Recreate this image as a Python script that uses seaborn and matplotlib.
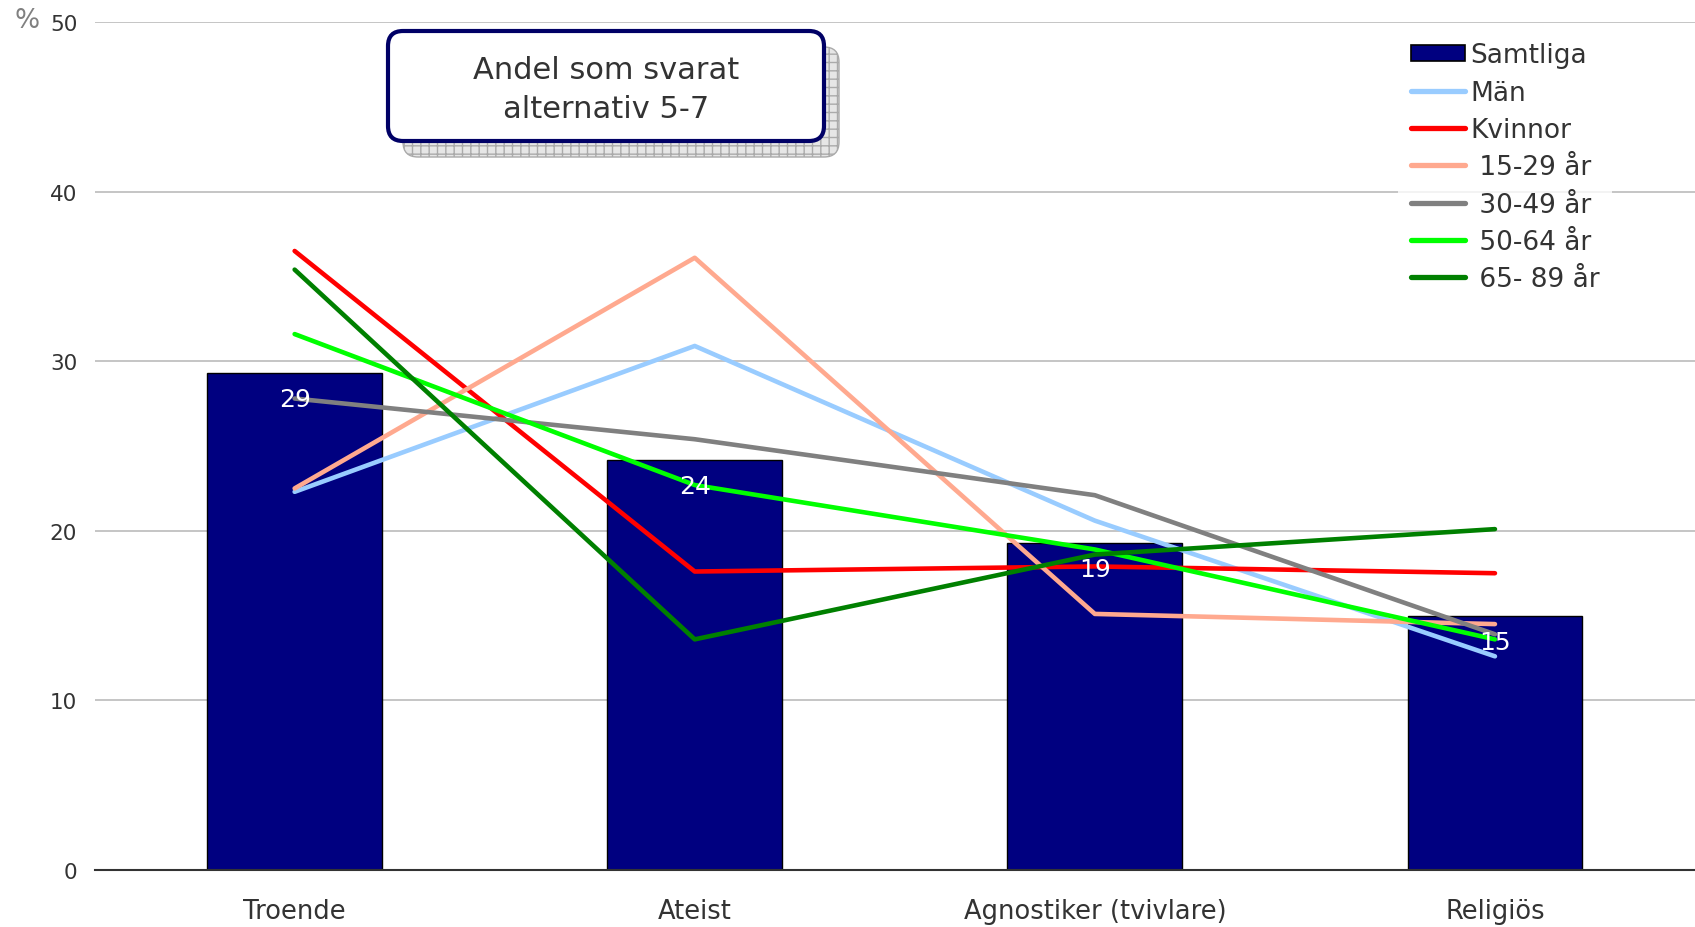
import numpy as np
import pandas as pd
import matplotlib
matplotlib.use("Agg")
import matplotlib.pyplot as plt
from matplotlib.patches import FancyBboxPatch, Patch
from matplotlib.lines import Line2D
import seaborn as sns

# ---- data ----
categories = ["Troende", "Ateist", "Agnostiker (tvivlare)", "Religiös"]
samtliga = [29.3, 24.2, 19.3, 15.0]
man = [22.3, 30.9, 20.6, 12.6]
kvinnor = [36.5, 17.6, 17.9, 17.5]
age_15_29 = [22.5, 36.1, 15.1, 14.5]
age_30_49 = [27.8, 25.4, 22.1, 13.9]
age_50_64 = [31.6, 22.7, 18.9, 13.6]
age_65_89 = [35.4, 13.6, 18.6, 20.1]
series_labels = ["Män", "Kvinnor", " 15-29 år", " 30-49 år", " 50-64 år", " 65- 89 år"]
series_values = [man, kvinnor, age_15_29, age_30_49, age_50_64, age_65_89]
series_colors = ["#99CCFF", "#FF0000", "#FFA98F", "#808080", "#00FF00", "#008000"]
bar_label_name = "Samtliga"
yticks = [0, 10, 20, 30, 40, 50]
box_text = "Andel som svarat\nalternativ 5-7"

sns.set_style("white")
plt.rcParams["font.family"] = ["DejaVu Sans"]

fig = plt.figure(figsize=(16.95, 9.28), dpi=100)
ax = fig.add_axes([0.0558, 0.0614, 0.9442, 0.9138])

df = pd.DataFrame({"cat": categories, "val": samtliga})
sns.barplot(data=df, x="cat", y="val", color="#000080", edgecolor="black",
            linewidth=1, width=0.437, saturation=1, ax=ax, zorder=2)

x_pos = np.arange(len(categories))
for lab, vals, col in zip(series_labels, series_values, series_colors):
    sns.lineplot(x=x_pos, y=vals, color=col, linewidth=3.3, ax=ax,
                 legend=False, zorder=3, solid_capstyle="round")

for i, v in enumerate(samtliga):
    ax.annotate(f"{v:.0f}", xy=(i, v), xytext=(0, -19), textcoords="offset points",
                ha="center", va="center", color="white", fontsize=18, zorder=5)

ax.set_xlim(-0.5, len(categories) - 0.5)
ax.set_ylim(0, 50)
ax.set_yticks(yticks)
ax.set_xlabel("")
ax.set_ylabel("")
ax.yaxis.grid(True, color="#c0c0c0", linewidth=1.3)
ax.set_axisbelow(True)
for s in ["left", "right", "top"]:
    ax.spines[s].set_visible(False)
ax.spines["bottom"].set_color("#333333")
ax.spines["bottom"].set_linewidth(1.5)
ax.tick_params(axis="y", length=0, pad=12.5, labelsize=15.5, labelcolor="#333333")
ax.tick_params(axis="x", length=0, pad=20, labelsize=18.5, labelcolor="#333333")

fig.text(27 / 1695, 1 - 21 / 928, "%", ha="center", va="center",
         fontsize=19, color="#808080")

# legend
handles = [Patch(facecolor="#000080", edgecolor="black", linewidth=1.2)]
handles += [Line2D([0], [0], color=c, linewidth=3.8) for c in series_colors]
labels = [bar_label_name] + series_labels
leg = ax.legend(handles, labels, loc="upper left",
                bbox_to_anchor=(1398 / 1695, 1 - 30 / 928),
                bbox_transform=fig.transFigure, frameon=True, fontsize=19,
                handlelength=2.05, handleheight=0.6, handletextpad=0.2,
                labelspacing=0.43, borderpad=0.5, borderaxespad=0)
leg.get_frame().set_facecolor("white")
leg.get_frame().set_edgecolor("white")
leg.get_frame().set_linewidth(0)
for t in leg.get_texts():
    t.set_color("#333333")
leg.set_zorder(6)

# text box with shadow
t_in = fig.dpi_scale_trans
bx, by, bw, bh = 3.88, 7.86, 4.36, 1.10
shadow = FancyBboxPatch((bx + 0.15, by - 0.16), bw, bh,
                        boxstyle="round,pad=0,rounding_size=0.15",
                        transform=t_in, facecolor="#e6e6e6",
                        edgecolor="#aaaaaa", hatch="++", linewidth=1, zorder=8)
fig.patches.append(shadow)
box = FancyBboxPatch((bx, by), bw, bh, boxstyle="round,pad=0,rounding_size=0.15",
                     transform=t_in, facecolor="white", edgecolor="#000066",
                     linewidth=3, zorder=9)
fig.patches.append(box)
fig.text(bx + bw / 2, by + bh / 2 - 0.03, box_text, transform=t_in, ha="center",
         va="center", multialignment="center", fontsize=22, color="#333333",
         linespacing=1.4, zorder=10)

fig.savefig("out.png", dpi=100)
